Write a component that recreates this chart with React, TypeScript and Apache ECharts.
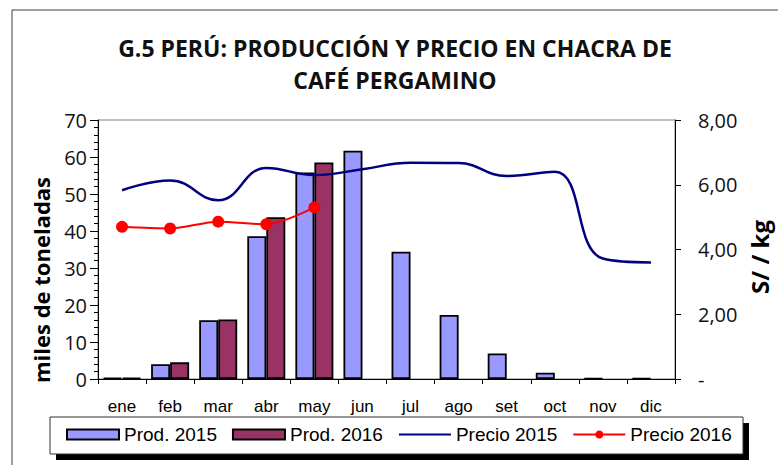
import React, { useEffect, useRef } from "react";
import * as echarts from "echarts";

const months = ["ene", "feb", "mar", "abr", "may", "jun", "jul", "ago", "set", "oct", "nov", "dic"];
const prod2015 = [0.3, 4.0, 15.9, 38.6, 55.8, 61.7, 34.4, 17.3, 6.9, 1.7, 0.2, 0.2];
const prod2016 = [0.3, 4.5, 16.1, 43.7, 58.5, null, null, null, null, null, null, null];
const precio2015 = [5.83, 6.13, 5.52, 6.52, 6.3, 6.48, 6.68, 6.67, 6.27, 6.4, 3.72, 3.6];
const precio2016 = [4.7, 4.65, 4.86, 4.78, 5.3, null, null, null, null, null, null, null];
const leftTicks = { min: 0, max: 70, interval: 10 };
const rightTicks = { min: 0, max: 8, interval: 2 };

const NUM_FONT = "'Open Sans', sans-serif";
const SANS = "'Liberation Sans', Arial, sans-serif";

export default function App() {
  const ref = useRef<HTMLDivElement>(null);
  useEffect(() => {
    if (!ref.current) return;
    const chart = echarts.init(ref.current, undefined, { renderer: "svg" });
    chart.setOption({
      animation: false,
      backgroundColor: "#ffffff",
      grid: {
        left: 98,
        right: 103,
        top: 120,
        bottom: 86,
        show: true,
        borderColor: "#808080",
        borderWidth: 1,
        backgroundColor: "transparent",
      },
      graphic: [
        {
          type: "rect",
          z: 0,
          shape: { x: 12, y: 10, width: 820, height: 500 },
          style: { fill: "none", stroke: "#404040", lineWidth: 1 },
          silent: true,
        },
        {
          type: "text",
          z: 5,
          x: 395,
          y: 48,
          style: {
            text: "G.5 PERÚ: PRODUCCIÓN Y PRECIO EN CHACRA DE",
            font: "bold 23px 'Open Sans', sans-serif",
            fill: "#111",
            textAlign: "center",
            textVerticalAlign: "middle",
          },
        },
        {
          type: "text",
          z: 5,
          x: 395,
          y: 80,
          style: {
            text: "CAFÉ PERGAMINO",
            font: "bold 23px 'Open Sans', sans-serif",
            fill: "#111",
            textAlign: "center",
            textVerticalAlign: "middle",
          },
        },
        {
          type: "text",
          z: 5,
          x: 41,
          y: 280,
          rotation: Math.PI / 2,
          style: {
            text: "miles de toneladas",
            font: "bold 22px 'Open Sans', sans-serif",
            fill: "#000",
            textAlign: "center",
            textVerticalAlign: "middle",
          },
        },
        {
          type: "text",
          z: 5,
          x: 759,
          y: 257,
          rotation: Math.PI / 2,
          style: {
            text: "S/ / kg",
            font: "bold 24px 'Open Sans', sans-serif",
            fill: "#000",
            textAlign: "center",
            textVerticalAlign: "middle",
          },
        },
        {
          type: "rect",
          z: 1,
          shape: { x: 56, y: 423, width: 693, height: 37 },
          style: { fill: "#000" },
          silent: true,
        },
        {
          type: "rect",
          z: 2,
          shape: { x: 50, y: 417, width: 693, height: 37 },
          style: { fill: "#fff", stroke: "#333", lineWidth: 1 },
          silent: true,
        },
      ],
      legend: {
        z: 10,
        left: 66,
        top: 425,
        padding: 0,
        itemWidth: 52,
        itemHeight: 10,
        itemGap: 15,
        textStyle: { fontFamily: SANS, fontSize: 19, color: "#000" },
        data: [
          { name: "Prod. 2015", icon: "rect" },
          { name: "Prod. 2016", icon: "rect" },
          { name: "Precio 2015", itemStyle: { opacity: 0 } },
          { name: "Precio 2016" },
        ],
      },
      xAxis: {
        type: "category",
        data: months,
        axisLine: { show: true, lineStyle: { color: "#000", width: 1 } },
        axisTick: { show: true, length: 5, lineStyle: { color: "#000" } },
        axisLabel: { margin: 19, fontFamily: SANS, fontSize: 17, color: "#000" },
        splitLine: { show: false },
      },
      yAxis: [
        {
          type: "value",
          ...leftTicks,
          position: "left",
          axisLine: { show: true, lineStyle: { color: "#000", width: 1 } },
          axisTick: { show: true, length: 8, lineStyle: { color: "#000" } },
          minorTick: { show: true, splitNumber: 5, length: 4, lineStyle: { color: "#000" } },
          axisLabel: { margin: 11, fontFamily: NUM_FONT, fontSize: 20, color: "#111" },
          splitLine: { show: false },
        },
        {
          type: "value",
          ...rightTicks,
          position: "right",
          axisLine: { show: true, lineStyle: { color: "#000", width: 1 } },
          axisTick: { show: true, length: 6, lineStyle: { color: "#000" } },
          axisLabel: {
            margin: 23,
            fontFamily: NUM_FONT,
            fontSize: 20,
            color: "#111",
            formatter: (v: number) => (v === 0 ? "-" : v.toFixed(2).replace(".", ",")),
          },
          splitLine: { show: false },
        },
      ],
      series: [
        {
          name: "Prod. 2015",
          type: "bar",
          data: prod2015,
          barWidth: 19,
          barGap: "0%",
          itemStyle: { color: "#9999FF", borderColor: "#000", borderWidth: 1.8 },
          z: 2,
        },
        {
          name: "Prod. 2016",
          type: "bar",
          data: prod2016,
          barWidth: 19,
          barGap: "0%",
          itemStyle: { color: "#993366", borderColor: "#000", borderWidth: 1.8 },
          z: 2,
        },
        {
          name: "Precio 2015",
          type: "line",
          yAxisIndex: 1,
          data: precio2015,
          smooth: 0.45,
          symbol: "none",
          lineStyle: { color: "#000080", width: 2.5 },
          itemStyle: { color: "#000080" },
          z: 4,
        },
        {
          name: "Precio 2016",
          type: "line",
          yAxisIndex: 1,
          data: precio2016,
          smooth: 0.3,
          symbol: "circle",
          symbolSize: 12,
          lineStyle: { color: "#FF0000", width: 2 },
          itemStyle: { color: "#FF0000" },
          z: 5,
        },
      ],
    });
    return () => chart.dispose();
  }, []);
  return (
    <div
      ref={ref}
      style={{ position: "fixed", left: 0, top: 0, width: 778, height: 465 }}
    />
  );
}
